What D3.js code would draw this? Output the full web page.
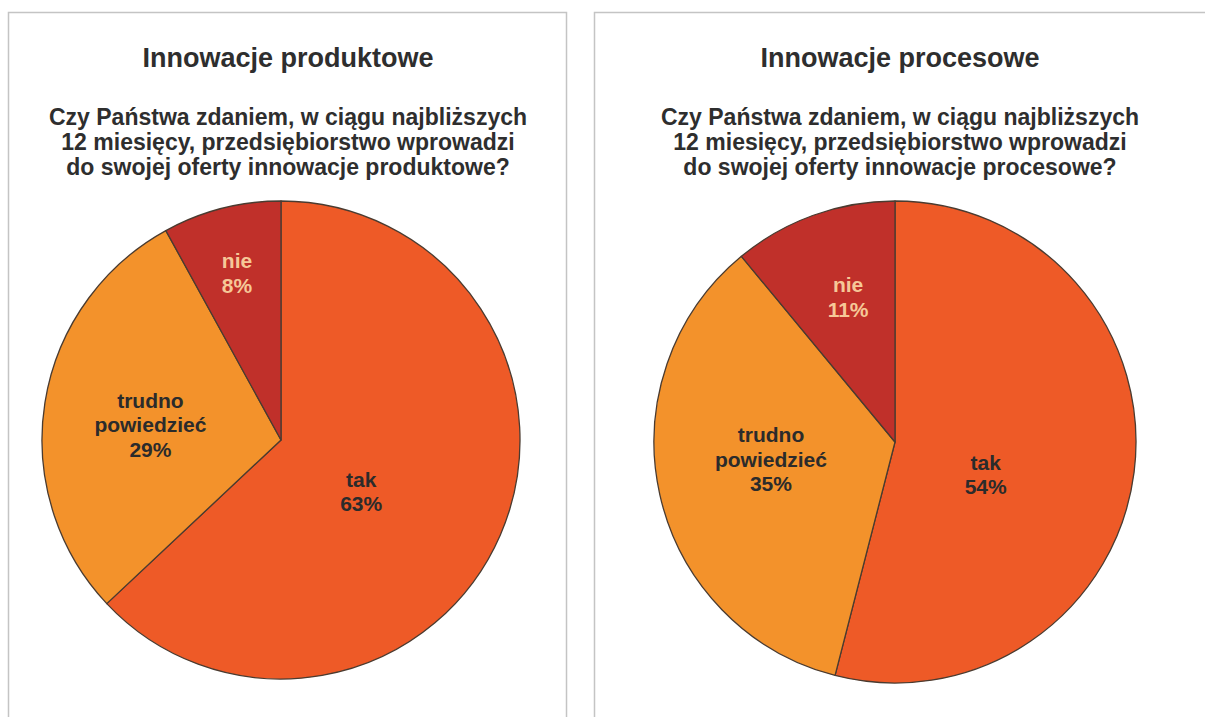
<!DOCTYPE html>
<html>
<head>
<meta charset="utf-8">
<script src="https://cdn.jsdelivr.net/npm/d3@7"></script>
<style>
  body { margin: 0; background: #fff; }
  svg { display: block; font-family: "Liberation Sans", Arial, sans-serif; font-weight: bold; }
</style>
</head>
<body>
<svg id="chart" width="1205" height="717"></svg>
<script>
// categories and values (percent)
const categories = ["tak", "trudno powiedzieć", "nie"];
const produktoweValues = [63, 29, 8];
const procesoweValues = [54, 35, 11];

const titles = ["Innowacje produktowe", "Innowacje procesowe"];
const questions = [
    ["Czy Państwa zdaniem, w ciągu najbliższych", "12 miesięcy, przedsiębiorstwo wprowadzi", "do swojej oferty innowacje produktowe?"],
    ["Czy Państwa zdaniem, w ciągu najbliższych", "12 miesięcy, przedsiębiorstwo wprowadzi", "do swojej oferty innowacje procesowe?"]
];

const colors = d3.scaleOrdinal().domain(categories).range(["#ee5a27", "#f3922b", "#c0302a"]);
const labelColors = d3.scaleOrdinal().domain(categories).range(["#2b2b2b", "#2b2b2b", "#f6c898"]);

const svg = d3.select("#chart");

// label placement: [radius fraction, angle nudge in deg] per category
const panels = [
    {x: 8.5, w: 558, cx: 281, cy: 440, r: 239, tx: 288, values: produktoweValues,
     labelPos: [[0.40, 9.6], [0.55, -2.5], [0.72, -0.4]]},
    {x: 594.5, w: 640, cx: 895, cy: 442, r: 241, tx: 900, values: procesoweValues,
     labelPos: [[0.40, 12.7], [0.52, 4.4], [0.63, 1.8]]}
];

const pie = d3.pie().sort(null).value(d => d.value);

panels.forEach((p, i) => {
    const g = svg.append("g");

    g.append("rect")
        .attr("x", p.x).attr("y", 12.5)
        .attr("width", p.w).attr("height", 720)
        .attr("fill", "#fff")
        .attr("stroke", "#c4c4c4")
        .attr("stroke-width", 1.5);

    g.append("text")
        .attr("x", p.tx).attr("y", 67)
        .attr("text-anchor", "middle")
        .attr("font-size", 27)
        .attr("fill", "#2e2e2e")
        .text(titles[i]);

    g.selectAll(".q").data(questions[i]).enter().append("text")
        .attr("class", "q")
        .attr("x", p.tx)
        .attr("y", (d, j) => 125 + j * 25)
        .attr("text-anchor", "middle")
        .attr("font-size", 23)
        .attr("fill", "#2e2e2e")
        .text(d => d);

    const data = categories.map((c, j) => ({cat: c, value: p.values[j], pos: p.labelPos[j]}));
    const arcs = pie(data);
    const arc = d3.arc().innerRadius(0).outerRadius(p.r);

    const pieG = g.append("g").attr("transform", `translate(${p.cx},${p.cy})`);

    pieG.selectAll("path").data(arcs).enter().append("path")
        .attr("d", arc)
        .attr("fill", d => colors(d.data.cat))
        .attr("stroke", "#4a3b30")
        .attr("stroke-width", 1.3)
        .attr("stroke-linejoin", "round");

    const lab = pieG.selectAll(".lab").data(arcs).enter().append("text")
        .attr("class", "lab")
        .attr("text-anchor", "middle")
        .attr("font-size", 21)
        .attr("fill", d => labelColors(d.data.cat))
        .attr("transform", d => {
            const a = (d.startAngle + d.endAngle) / 2 + d.data.pos[1] * Math.PI / 180;
            const rr = d.data.pos[0] * p.r;
            return `translate(${rr * Math.sin(a)},${-rr * Math.cos(a)})`;
        });

    lab.each(function(d) {
        const lines = d.data.cat.split(" ").concat([d.data.value + "%"]);
        const t = d3.select(this);
        const n = lines.length;
        lines.forEach((l, k) => {
            t.append("tspan")
                .attr("x", 0)
                .attr("y", (k - (n - 1) / 2) * 24.5 + 7)
                .text(l);
        });
    });
});
</script>
</body>
</html>
